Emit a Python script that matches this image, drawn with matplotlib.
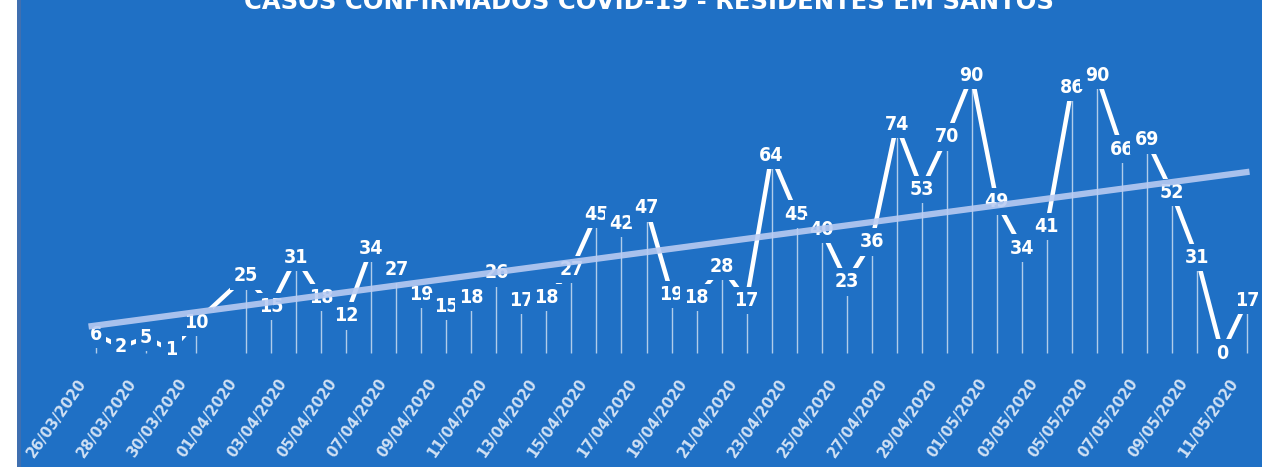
import matplotlib
matplotlib.use("Agg")
import matplotlib.pyplot as plt
import matplotlib.dates as mdates
import numpy as np
import pandas as pd
from matplotlib.patches import Rectangle

BG = "#1f70c5"

# 31/03 has no value in the source chart
dates = pd.date_range("2020-03-26", "2020-05-11").drop(pd.Timestamp("2020-03-31"))
cases = [6, 2, 5, 1, 10, 25, 15, 31, 18, 12, 34, 27, 19, 15, 18, 26,
         17, 18, 27, 45, 42, 47, 19, 18, 28, 17, 64, 45, 40, 23, 36, 74,
         53, 70, 90, 49, 34, 41, 86, 90, 66, 69, 52, 31, 0, 17]
tick_dates = pd.date_range("2020-03-26", "2020-05-11", freq="2D")
title = "CASOS CONFIRMADOS COVID-19 - RESIDENTES EM SANTOS"

W, H = 1262, 467
fig = plt.figure(figsize=(W / 100, H / 100), dpi=100, facecolor=BG)

# white strip + dark edge on the left, like the scanned original
fig.patches.append(Rectangle((0, 0), 17 / W, 1, transform=fig.transFigure,
                             fc="white", ec="none", zorder=0))
fig.patches.append(Rectangle((17 / W, 0), 4 / W, 1, transform=fig.transFigure,
                             fc="#3f6fb0", ec="none", zorder=0))

ax = fig.add_axes([21 / W, 0, (W - 21) / W, 1])
ax.set_facecolor(BG)
ax.axis("off")

x = mdates.date2num(dates)
ax.set_xlim(x[0] - 3.0, x[-1] + 0.6)
ax.set_ylim(-36.9, 114.3)

ax.vlines(dates, 0, cases, color="white", lw=1, alpha=0.65, zorder=1)
ax.plot(dates, cases, color="white", lw=3.2, solid_capstyle="round",
        solid_joinstyle="round", zorder=2)

for d, v in zip(dates, cases):
    ax.text(d, v, str(v), ha="center", va="center", fontsize=14,
            fontweight="bold", family="DejaVu Sans", fontstretch="condensed",
            color="white",
            bbox=dict(boxstyle="square,pad=0.22", fc=BG, ec="none"), zorder=3)

# linear trend line
p = np.polyfit(x, cases, 1)
tx = np.array([x[0] - 0.3, x[-1] + 0.1])
ax.plot(tx, np.polyval(p, tx), color="#b8cbf2", lw=4.5, alpha=0.9,
        solid_capstyle="butt", zorder=4)

for d in tick_dates:
    ax.text(mdates.date2num(d) - 0.5, -8.8, d.strftime("%d/%m/%Y"),
            rotation=55, rotation_mode="anchor", ha="right", va="center",
            color="#cfe0f4", fontsize=10.5, fontweight="bold")

fig.text(649 / W, 0.995, title, ha="center", va="center", color="white",
         fontsize=17.5, fontweight="bold")

fig.savefig("out.png", dpi=100, facecolor=fig.get_facecolor())
